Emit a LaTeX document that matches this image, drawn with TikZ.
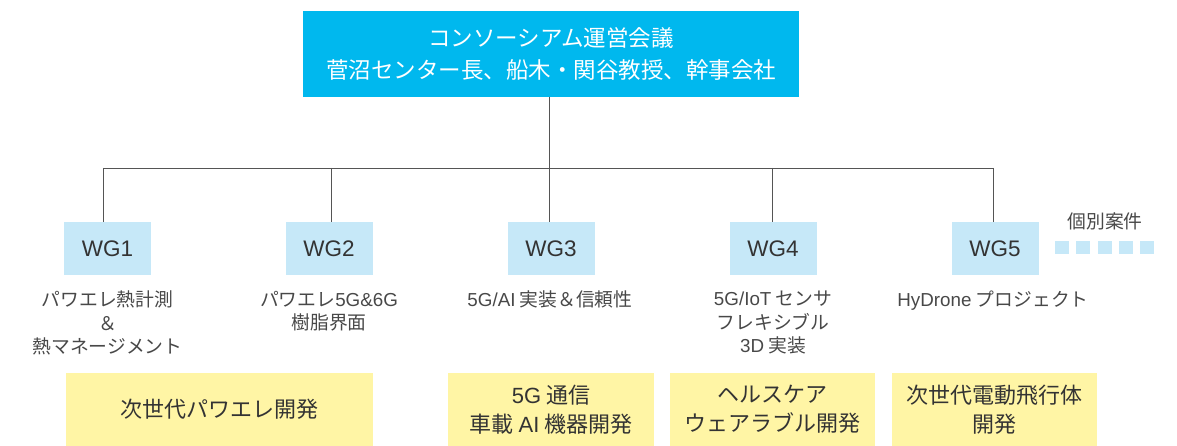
\documentclass[tikz,border=0pt]{standalone}
\usepackage{fontspec}
\setmainfont{Noto Sans CJK JP}
\newfontfamily\lat{Liberation Sans}
\definecolor{topblue}{HTML}{00B8EE}
\definecolor{wgblue}{HTML}{C6E8F8}
\definecolor{ylw}{HTML}{FFF5A5}
\definecolor{linec}{HTML}{555555}
\definecolor{txtc}{HTML}{333333}
\definecolor{desc}{HTML}{484848}
\begin{document}
\begin{tikzpicture}[x=1pt,y=-1pt,
  topbox/.style={fill=topblue,inner sep=0,minimum width=496pt,minimum height=86pt,text=white,align=center,font=\fontsize{22.5}{32}\selectfont},
  wgbox/.style={fill=wgblue,inner sep=0,minimum width=87pt,minimum height=53pt,text=txtc,font=\lat\fontsize{22.5}{26}\selectfont},
  desctext/.style={inner sep=0,anchor=north,align=center,text=desc,font=\fontsize{18.8}{23.5}\selectfont},
  ybox/.style={fill=ylw,inner sep=0,minimum height=73pt,text=txtc,align=center,font=\fontsize{22}{29}\selectfont},
  conn/.style={draw=linec,line width=0.9pt}]
\useasboundingbox (0,0) rectangle (1177,446);
\node[topbox] (top) at (551,54) {コンソーシアム運営会議\\菅沼センター長、船木・関谷教授、幹事会社};
\foreach \i/\x in {1/107.5,2/329,3/551,4/773,5/995}{
  \node[wgbox] (wg\i) at (\x,248.5) {WG\i};
}
\coordinate (h1) at (103.5,168);
\coordinate (h2) at (331,168);
\coordinate (h3) at (549.5,168);
\coordinate (h4) at (772.5,168);
\coordinate (h5) at (993,168);
\draw[conn] (top.south -| h3) -- (h3);
\draw[conn] (h1) -- (h5);
\foreach \i in {1,2,4,5}{
  \draw[conn] (h\i) -- (h\i |- wg\i.north);
}
\draw[conn] (h3) -- (h3 |- wg3.north);
\node[desctext] (d1) at (107.5,291) {パワエレ熱計測\\＆\\熱マネージメント};
\node[desctext] (d2) at (329,291) {パワエレ{\lat 5G\&6G}\\樹脂界面};
\node[desctext] (d3) at (550,291) {{\lat 5G/AI} 実装＆信頼性};
\node[desctext] (d4) at (773,291) {{\lat 5G/IoT} センサ\\フレキシブル\\{\lat 3D} 実装};
\node[desctext] (d5) at (993,291) {{\lat HyDrone} プロジェクト};
\node[desctext,anchor=center] (ko) at (1105,221) {個別案件};
\foreach \k in {0,...,4}{
  \fill[wgblue] (1055+\k*21.25,241) rectangle ++(14,13);
}
\node[ybox,minimum width=307pt] (y1) at (219.5,409.5) {次世代パワエレ開発};
\node[ybox,minimum width=206pt] (y2) at (551,409.5) {{\lat 5G} 通信\\車載 {\lat AI} 機器開発};
\node[ybox,minimum width=205pt] (y3) at (772.5,409.5) {ヘルスケア\\ウェアラブル開発};
\node[ybox,minimum width=205pt] (y4) at (994.5,409.5) {次世代電動飛行体\\開発};
\end{tikzpicture}
\end{document}
